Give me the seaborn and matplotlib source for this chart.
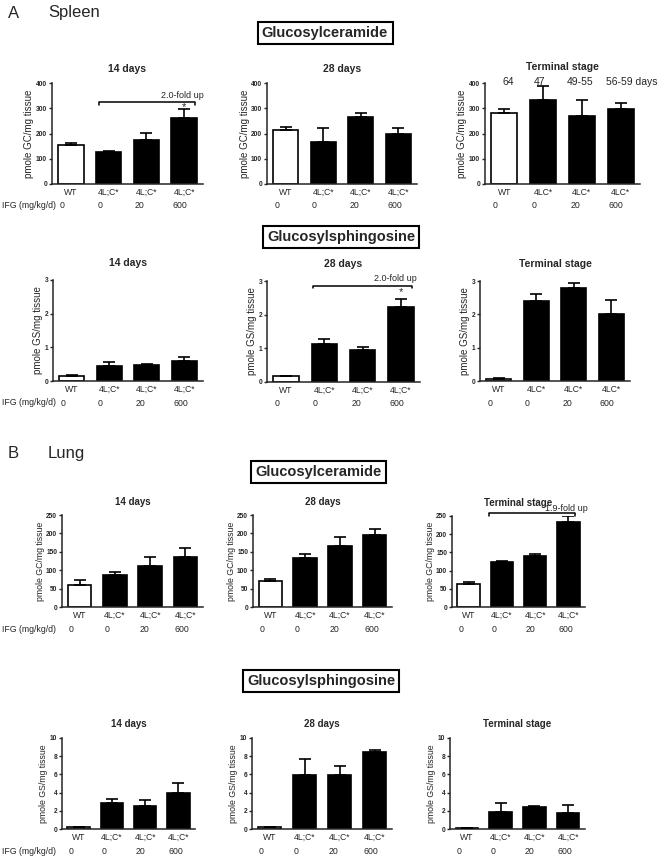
import numpy as np
import pandas as pd
import matplotlib
matplotlib.use("Agg")
import matplotlib.pyplot as plt
from matplotlib.transforms import offset_copy
import seaborn as sns

# ---- data ----
groups = ["WT", "4L;C* 0", "4L;C* 20", "4L;C* 600"]
doses = ["0", "0", "20", "600"]
labels_semi = ["WT", "4L;C*", "4L;C*", "4L;C*"]
labels_plain = ["WT", "4LC*", "4LC*", "4LC*"]
terminal_ages = ["64", "47", "49-55", "56-59 days"]

spleen_gc_14 = [153, 126, 176, 262]
spleen_gc_14_err = [10, 5, 27, 36]
spleen_gc_28 = [215, 168, 265, 197]
spleen_gc_28_err = [10, 53, 18, 24]
spleen_gc_term = [281, 331, 268, 298]
spleen_gc_term_err = [16, 56, 66, 23]

spleen_gs_14 = [0.15, 0.45, 0.48, 0.60]
spleen_gs_14_err = [0.03, 0.12, 0.02, 0.12]
spleen_gs_28 = [0.19, 1.14, 0.96, 2.23]
spleen_gs_28_err = [0.0, 0.15, 0.08, 0.25]
spleen_gs_term = [0.06, 2.40, 2.80, 2.00]
spleen_gs_term_err = [0.03, 0.20, 0.15, 0.43]

lung_gc_14 = [59, 86, 112, 135]
lung_gc_14_err = [14, 9, 23, 26]
lung_gc_28 = [71, 134, 165, 197]
lung_gc_28_err = [5, 11, 26, 14]
lung_gc_term = [62, 124, 140, 233]
lung_gc_term_err = [7, 3, 5, 17]

lung_gs_14 = [0.18, 2.84, 2.58, 3.93]
lung_gs_14_err = [0.07, 0.43, 0.62, 1.16]
lung_gs_28 = [0.18, 5.90, 5.90, 8.42]
lung_gs_28_err = [0.03, 1.80, 1.06, 0.22]
lung_gs_term = [0.07, 1.90, 2.37, 1.75]
lung_gs_term_err = [0.03, 0.98, 0.18, 0.88]

bar_colors = {"WT": "white", "4L;C* 0": "black", "4L;C* 20": "black", "4L;C* 600": "black"}

sns.set_style("ticks")
plt.rcParams["font.family"] = ["Liberation Sans", "DejaVu Sans"]

W, H = 661, 857
fig = plt.figure(figsize=(W / 100, H / 100), dpi=100)


def rect(left, right, top, bottom):
    return [left / W, 1 - bottom / H, (right - left) / W, (bottom - top) / H]


def px(x, y):
    return x / W, 1 - y / H


def panel(box, means, errs, ymax, ystep, ylabel, title, xlabels,
          title_size=7.5, title_pad=8, ylabel_size=7):
    ax = fig.add_axes(rect(*box))
    df = pd.DataFrame({"group": groups, "value": means})
    sns.barplot(data=df, x="group", y="value", hue="group", order=groups,
                hue_order=groups, palette=bar_colors, saturation=1,
                edgecolor="black", linewidth=1.2, width=0.67, errorbar=None,
                legend=False, ax=ax)
    ax.errorbar(np.arange(4), means, yerr=[np.zeros(4), errs], fmt="none",
                ecolor="black", elinewidth=1.2, capsize=4, capthick=1.2, zorder=3)
    ax.set_xlim(-0.5, 3.5)
    ax.set_ylim(0, ymax)
    ticks = np.arange(0, ymax + ystep / 2, ystep)
    ax.set_yticks(ticks)
    ax.set_yticklabels([f"{v:g}" for v in ticks], fontsize=4.8, fontweight="bold")
    ax.set_xticks(range(4))
    ax.set_xticklabels(xlabels, fontsize=6.2)
    ax.tick_params(axis="x", length=0, pad=3)
    ax.tick_params(axis="y", length=2.5, width=1, pad=1, direction="out")
    ax.set_xlabel("")
    ax.set_ylabel(ylabel, fontsize=ylabel_size, labelpad=1)
    ax.set_title(title, fontsize=title_size, fontweight="bold", pad=title_pad)
    for s in ["left", "bottom"]:
        ax.spines[s].set_linewidth(1.1)
    sns.despine(ax=ax)
    trans = offset_copy(ax.get_xaxis_transform(), fig=fig, x=0, y=-22, units="dots")
    for i, d in enumerate(doses):
        ax.text(i - 0.3, 0, d, transform=trans, fontsize=6.3, ha="left", va="center")
    return ax


def bracket(ax, x0, x1, y, drop, text, text_x, text_y, star_y=None):
    ax.plot([x0, x0, x1, x1], [y - drop, y, y, y - drop], color="black",
            lw=1.1, clip_on=False)
    ax.text(text_x, text_y, text, fontsize=6.5, ha="center", va="center", clip_on=False)
    if star_y is not None:
        ax.text(3, star_y, "*", fontsize=8, ha="center", va="center")


def boxed(x, y, text):
    fig.text(*px(x, y), text, fontsize=10.5, fontweight="bold", ha="center", va="center",
             bbox=dict(boxstyle="square,pad=0.3", facecolor="white",
                       edgecolor="black", linewidth=1.5))


# section labels
fig.text(*px(8, 13), "A", fontsize=12, va="center")
fig.text(*px(48, 13), "Spleen", fontsize=12, va="center")
fig.text(*px(8, 453), "B", fontsize=12, va="center")
fig.text(*px(48, 453), "Lung", fontsize=12, va="center")

boxed(325, 33, "Glucosylceramide")
boxed(341, 237, "Glucosylsphingosine")
boxed(318, 472, "Glucosylceramide")
boxed(321, 681, "Glucosylsphingosine")

gc_lab = "pmole GC/mg tissue"
gs_lab = "pmole GS/mg tissue"

# Spleen GC
ax = panel((52, 203, 83, 184), spleen_gc_14, spleen_gc_14_err, 400, 100, gc_lab,
           "14 days", labels_semi)
bracket(ax, 0.75, 3.3, 325, 12, "2.0-fold up", 2.95, 352, star_y=303)
panel((267, 417, 83, 184), spleen_gc_28, spleen_gc_28_err, 400, 100, gc_lab,
      "28 days", labels_semi)
ax = panel((485, 640, 83, 184), spleen_gc_term, spleen_gc_term_err, 400, 100, gc_lab,
           "Terminal stage", labels_plain, title_pad=9)
for xpos, t, ha in zip([0.1, 0.9, 1.95, 2.62], terminal_ages,
                       ["center", "center", "center", "left"]):
    ax.text(xpos, 404, t, fontsize=7.5, ha=ha, va="center", clip_on=False)

# Spleen GS
panel((53, 203, 280, 381), spleen_gs_14, spleen_gs_14_err, 3, 1, gs_lab,
      "14 days", labels_semi, title_pad=10)
ax = panel((267, 420, 281, 382), spleen_gs_28, spleen_gs_28_err, 3, 1, gs_lab,
           "28 days", labels_semi, title_pad=10)
bracket(ax, 0.7, 3.3, 2.86, 0.08, "2.0-fold up", 2.85, 3.06, star_y=2.66)
panel((480, 630, 281, 381), spleen_gs_term, spleen_gs_term_err, 3, 1, gs_lab,
      "Terminal stage", labels_plain, title_pad=10)

# Lung GC
panel((62, 203, 515, 607), lung_gc_14, lung_gc_14_err, 250, 50, gc_lab,
      "14 days", labels_semi, title_size=7, title_pad=7, ylabel_size=6.3)
panel((253, 392, 515, 607), lung_gc_28, lung_gc_28_err, 250, 50, gc_lab,
      "28 days", labels_semi, title_size=7, title_pad=7, ylabel_size=6.3)
ax = panel((452, 585, 516, 607), lung_gc_term, lung_gc_term_err, 250, 50, gc_lab,
           "Terminal stage", labels_semi, title_size=7, title_pad=7, ylabel_size=6.3)
bracket(ax, 0.6, 3.2, 259, 8, "1.9-fold up", 2.95, 270)

# Lung GS
panel((62, 195, 738, 829), lung_gs_14, lung_gs_14_err, 10, 2, gs_lab,
      "14 days", labels_semi, title_size=7, title_pad=8, ylabel_size=6.3)
panel((252, 392, 738, 829), lung_gs_28, lung_gs_28_err, 10, 2, gs_lab,
      "28 days", labels_semi, title_size=7, title_pad=8, ylabel_size=6.3)
panel((450, 585, 738, 829), lung_gs_term, lung_gs_term_err, 10, 2, gs_lab,
      "Terminal stage", labels_semi, title_size=7, title_pad=8, ylabel_size=6.3)

for y in [206, 403, 629, 851]:
    fig.text(*px(2, y), "IFG (mg/kg/d)", fontsize=6.3, ha="left", va="center")

fig.savefig("out.png", dpi=100)
